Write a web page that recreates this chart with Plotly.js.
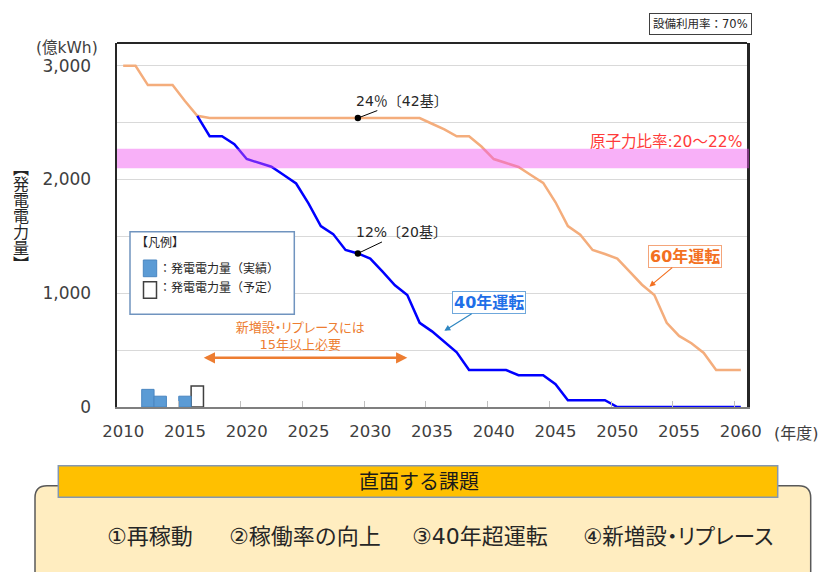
<!DOCTYPE html>
<html>
<head>
<meta charset="utf-8">
<script src="https://cdn.plot.ly/plotly-3.0.1.min.js"></script>
<style>html,body{margin:0;padding:0;background:#fff;}#chart{width:820px;height:572px;}</style>
</head>
<body>
<div id="chart"></div>
<script>
// ---- data ----
const years = [2010,2011,2012,2013,2014,2015,2016,2017,2018,2019,2020,2021,2022,2023,2024,2025,2026,2027,2028,2029,2030,2031,2032,2033,2034,2035,2036,2037,2038,2039,2040,2041,2042,2043,2044,2045,2046,2047,2048,2049,2050,2051,2052,2053,2054,2055,2056,2057,2058,2059,2060];
// 60年運転 (億kWh)
const op60 = [3000,3000,2830,2830,2830,2690,2560,2540,2540,2540,2540,2540,2540,2540,2540,2540,2540,2540,2540,2540,2540,2540,2540,2540,2540,2490,2440,2380,2380,2290,2180,2145,2110,2040,1970,1800,1590,1515,1380,1345,1305,1190,1075,985,740,625,560,475,325,325,325];
// 40年運転 (億kWh)
const op40 = [null,null,null,null,null,null,2560,2380,2380,2310,2180,2145,2112,2040,1965,1790,1590,1520,1380,1350,1305,1190,1070,985,740,665,570,480,325,325,325,325,280,280,280,200,60,60,60,60,0,0,0,0,0,0,0,0,0,0,0];
// 発電電力量（実績）
const actualYears = [2012,2013,2015];
const actualValues = [155,95,95];
// 発電電力量（予定）
const plannedYears = [2016];
const plannedValues = [185];
const tickYears = [2010,2015,2020,2025,2030,2035,2040,2045,2050,2055,2060];
const yTickVals = [0,500,1000,1500,2000,2500,3000];
const yTickText = ['0','','1,000','','2,000','','3,000'];
const nuclearShareBand = [2100,2270];

// ---- layout helpers ----
const L=117,R=747,T=43,B=407;
const px = x => (x-L)/(R-L);
const py = y => (B-y)/(B-T);
const FONT = "'DejaVu Sans', 'Noto Sans CJK JP', sans-serif";
const JP = "'Noto Sans CJK JP', 'DejaVu Sans', sans-serif";
const boundaries = tickYears.slice(1).map(y => y-0.5);
const yearAt = y => years.indexOf(y);

const traces = [
  {type:'bar', x:actualYears, y:actualValues, width:1, marker:{color:'#5b9bd5', line:{color:'#4a86c0', width:1}}, xaxis:'x2', yaxis:'y', hoverinfo:'skip'},
  {type:'bar', x:plannedYears, y:plannedValues, width:1, marker:{color:'#ffffff', line:{color:'#404040', width:1.5}}, hoverinfo:'skip'},
  {type:'scatter', mode:'lines', x:years, y:op60, line:{color:'#f4ad7c', width:2.5}, hoverinfo:'skip'},
  {type:'scatter', mode:'lines', x:years, y:op40, line:{color:'#0000ff', width:2.5}, connectgaps:false, hoverinfo:'skip'}
];

function rect(x0,y0,x1,y1,fill,lc,lw){
  return {type:'rect', xref:'paper', yref:'paper', x0:px(x0), x1:px(x1), y0:py(y1), y1:py(y0), fillcolor:fill, line:{color:lc, width:lw}, layer:'above'};
}
function roundedTop(x0,y0,x1,y1,r){
  const rx=r/(R-L), ry=r/(B-T);
  const X0=px(x0),X1=px(x1),Y0=py(y0),Y1=py(y1);
  return `M ${X0},${Y1} L ${X0},${Y0-ry} Q ${X0},${Y0} ${X0+rx},${Y0} L ${X1-rx},${Y0} Q ${X1},${Y0} ${X1},${Y0-ry} L ${X1},${Y1} Z`;
}

const shapes = [
  {type:'rect', xref:'paper', yref:'y', x0:0, x1:px(749), y0:nuclearShareBand[0], y1:nuclearShareBand[1], fillcolor:'rgba(240,80,240,0.45)', line:{width:0}, layer:'above'},
  {type:'line', xref:'paper', yref:'paper', x0:0, x1:1, y0:1, y1:1, line:{color:'#262626', width:2}, layer:'above'},
  rect(130,231.7,294.3,314.3,'#ffffff','#7094bf',1.5),
  rect(143.3,260,156.7,276.7,'#5b9bd5','#4a86c0',1),
  rect(143.5,281.7,156.5,298.3,'#ffffff','#404040',1.5),
  {type:'path', xref:'paper', yref:'paper', path:roundedTop(35,485.7,810.7,600,12), fillcolor:'#ffedc0', line:{color:'#595959', width:1.5}, layer:'above'},
  rect(58.3,465.7,777.7,497.3,'#ffc000','#8497b0',1.5)
];

const txt = (text,x,y,size,color,extra) => Object.assign({text, xref:'paper', yref:'paper', x:px(x), y:py(y), xanchor:'center', yanchor:'middle', showarrow:false, font:{family:FONT, size, color}}, extra||{});

const annotations = [
  txt('(億kWh)',67,48,15.5,'#404040'),
  txt('(年度)',796,433,16,'#404040'),
  txt('設備利用率：70%',700.5,24,11.5,'#262626',{bordercolor:'#404040', borderwidth:1, borderpad:3, bgcolor:'#ffffff'}),
  txt('原子力比率:20～22%',744,141.7,15.5,'#ff3b3b',{xanchor:'right'}),
  {text:'24％〔42基〕', x:2029, y:op60[yearAt(2029)], xref:'x', yref:'y', ax:44, ay:-17, showarrow:true, arrowhead:6, arrowsize:1.6, arrowwidth:1, arrowcolor:'#000000', font:{family:FONT,size:14,color:'#262626'}},
  {text:'12%〔20基〕', x:2029, y:op40[yearAt(2029)], xref:'x', yref:'y', ax:44, ay:-21, showarrow:true, arrowhead:6, arrowsize:1.6, arrowwidth:1, arrowcolor:'#000000', font:{family:FONT,size:14,color:'#262626'}},
  {text:'<b>40年運転</b>', x:2036, y:670, xref:'x', yref:'y', ax:45, ay:-28, showarrow:true, arrowhead:2, arrowsize:1, arrowwidth:1.2, arrowcolor:'#2e86c1', bordercolor:'#6fa8dc', borderwidth:1, borderpad:1, bgcolor:'#ffffff', font:{family:FONT,size:16,color:'#1f6fe8'}},
  {text:'<b>60年運転</b>', x:2052.6, y:1058, xref:'x', yref:'y', ax:36, ay:-30, showarrow:true, arrowhead:2, arrowsize:1, arrowwidth:1.2, arrowcolor:'#f37021', bordercolor:'#f4a57a', borderwidth:1, borderpad:1, bgcolor:'#ffffff', font:{family:FONT,size:16,color:'#f37021'}},
  txt('新増設・リプレースには<br>15年以上必要',300,335.5,13,'#ed7d31'),
  {text:'', x:2033.0, y:433, ax:2016.4, ay:433, xref:'x', yref:'y', axref:'x', ayref:'y', showarrow:true, arrowside:'end+start', arrowhead:2, arrowsize:0.9, arrowwidth:2.5, arrowcolor:'#ed7d31'},
  txt('【凡例】',134,243,12,'#262626',{xanchor:'left'}),
  txt('：発電電力量（実績）',157,268.3,12,'#262626',{xanchor:'left'}),
  txt('：発電電力量（予定）',157,288,12,'#262626',{xanchor:'left'}),
  txt('直面する課題',419,481.5,20,'#1a1a1a'),
  txt('①再稼動',105,536,22,'#262626',{xanchor:'left'}),
  txt('②稼働率の向上',227,536,22,'#262626',{xanchor:'left'}),
  txt('③40年超運転',410,536,22,'#262626',{xanchor:'left'}),
  txt('④新増設・リプレース',581,536,21.5,'#262626',{xanchor:'left', align:'left'}),
  txt('【発電電力量】',21,216,16,'#262626',{font:{family:JP,size:16,color:'#262626'}})
];

const layout = {
  width:820, height:572,
  margin:{l:L, r:820-R, t:T, b:572-B, pad:0},
  paper_bgcolor:'#ffffff', plot_bgcolor:'#ffffff',
  showlegend:false, barmode:'overlay',
  font:{family:FONT, color:'#404040'},
  xaxis:{range:[2009.5,2060.5], tickvals:boundaries, ticktext:boundaries.map(()=>''), ticks:'inside', ticklen:6, tickcolor:'#bfbfbf', tickwidth:1, showline:true, linecolor:'#7f7f7f', linewidth:2, showgrid:false, zeroline:false},
  xaxis2:{overlaying:'x', anchor:'y', side:'bottom', range:[2009.5,2060.5], tickvals:tickYears, ticktext:tickYears.map(String), ticks:'', showline:false, showgrid:false, zeroline:false, tickfont:{family:FONT, size:16.5, color:'#404040'}, ticklabelstandoff:12},
  yaxis:{range:[0,3200], tickvals:yTickVals, ticktext:yTickText, showgrid:true, gridcolor:'#d9d9d9', gridwidth:1, showline:true, linecolor:'#262626', linewidth:2.5, mirror:true, ticks:'', tickfont:{family:FONT, size:17, color:'#404040'}, ticklabelstandoff:20, zeroline:false},
  shapes, annotations
};

Plotly.newPlot('chart', traces, layout, {displayModeBar:false, staticPlot:true}).then(gd => {
  gd.querySelectorAll('.annotation-text').forEach(t => {
    // proportional kana spacing for the katakana-heavy labels, as in the original typeface
    if (t.textContent.indexOf('リプレース') >= 0) t.style.fontFeatureSettings = '"palt" 1';
    // vertical (tategaki) axis title
    if (t.textContent === '【発電電力量】') {
      const x = 21, yc = 216;
      t.setAttribute('x', x);
      t.setAttribute('y', yc);
      t.setAttribute('text-anchor', 'middle');
      t.style.writingMode = 'vertical-rl';
      t.style.dominantBaseline = 'central';
      t.parentNode.setAttribute('transform', '');
      const g = t.closest('.annotation');
      if (g) g.querySelectorAll('.annotation-text-g').forEach(n => n.setAttribute('transform',''));
    }
  });
});
</script>
</body>
</html>
